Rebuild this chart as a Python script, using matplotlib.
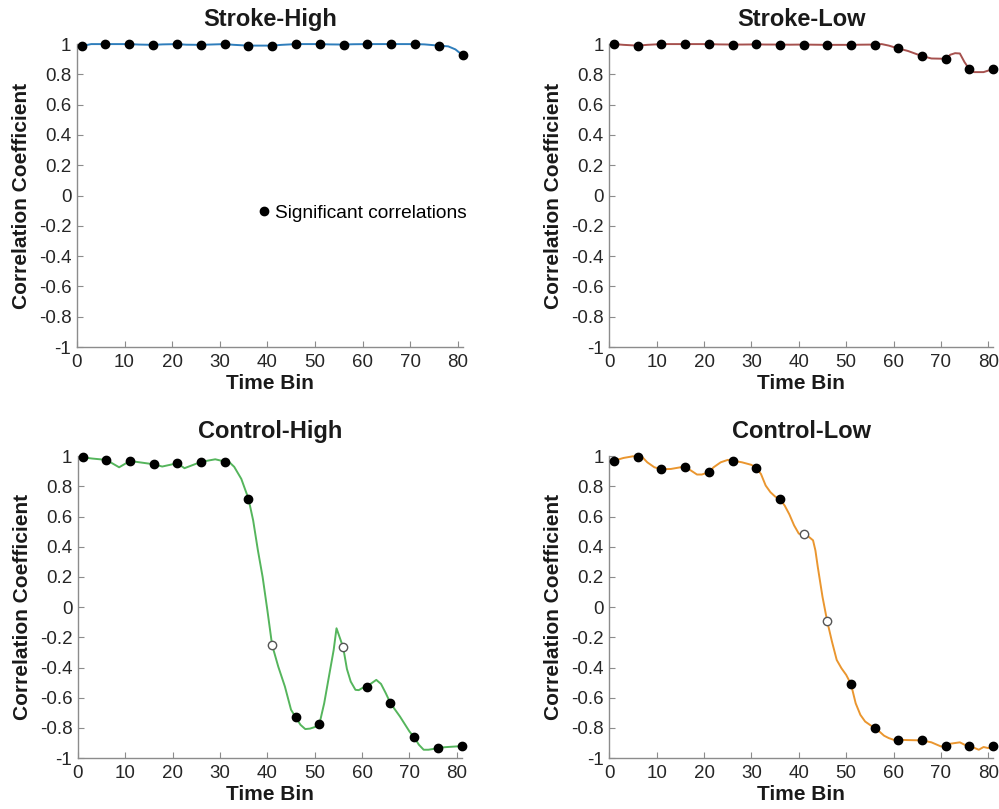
import matplotlib
matplotlib.use("Agg")
import matplotlib.pyplot as plt
import numpy as np
from matplotlib.lines import Line2D

plt.rcParams['font.family'] = ['Liberation Sans', 'DejaVu Sans']

# time bins where correlation was tested (every 5th bin)
marker_bins = [1, 6, 11, 16, 21, 26, 31, 36, 41, 46, 51, 56, 61, 66, 71, 76, 81]

# --- Stroke-High ---
sh_x = [1, 3, 6, 8, 11, 13, 16, 18, 21, 23, 26, 28, 31, 33, 36, 38, 41, 43, 46, 48, 51, 53,
        56, 58, 61, 63, 66, 68, 71, 73, 76, 78, 79.5, 81]
sh_y = [0.987, 1.0, 1.0, 1.0, 1.0, 0.997, 0.995, 0.998, 1.0, 0.996, 0.995, 0.997, 1.0, 0.995,
        0.99, 0.99, 0.99, 0.995, 1.0, 1.0, 1.0, 0.998, 0.997, 0.999, 1.0, 1.0, 1.0, 1.0,
        1.0, 0.998, 0.99, 0.985, 0.965, 0.927]
sh_sig = [1] * 17

# --- Stroke-Low ---
sl_x = [1, 3, 6, 8, 11, 13, 16, 18, 21, 23, 26, 28, 31, 33, 36, 38, 41, 43, 46, 48, 51, 53,
        56, 57.5, 59, 61, 63, 66, 68, 71, 72, 73, 74, 75, 76, 77, 79, 81]
sl_y = [1.0, 0.995, 0.99, 0.995, 1.0, 1.0, 1.0, 1.0, 1.0, 0.998, 0.997, 0.997, 0.998, 0.997,
        0.997, 0.996, 0.997, 0.996, 0.995, 0.995, 0.995, 0.996, 0.997, 1.0, 0.99, 0.971,
        0.955, 0.921, 0.905, 0.903, 0.93, 0.94, 0.938, 0.88, 0.835, 0.815, 0.815, 0.835]
sl_sig = [1] * 17

# --- Control-High ---
ch_x = [1, 3, 6, 8.7, 11, 13, 16, 17.8, 21, 22.5, 26, 29, 31, 32, 33, 34.5, 36, 37, 38, 39,
        40, 41, 42.3, 43.7, 45, 46, 47, 48, 49, 50, 51, 52, 53, 54, 54.6, 56, 56.8, 57.6,
        58.6, 59.3, 60, 61, 62, 63, 64, 65, 66, 68, 70, 71, 72, 73, 74, 75, 76, 78, 80, 81]
ch_y = [0.993, 0.985, 0.976, 0.927, 0.969, 0.96, 0.947, 0.932, 0.954, 0.921, 0.963, 0.98,
        0.965, 0.96, 0.93, 0.85, 0.72, 0.575, 0.377, 0.2, -0.02, -0.251, -0.394, -0.526,
        -0.68, -0.731, -0.78, -0.808, -0.805, -0.795, -0.773, -0.637, -0.46, -0.284, -0.14,
        -0.266, -0.41, -0.493, -0.548, -0.55, -0.537, -0.526, -0.504, -0.482, -0.509, -0.57,
        -0.637, -0.725, -0.824, -0.863, -0.912, -0.945, -0.945, -0.94, -0.932, -0.927,
        -0.923, -0.923]
ch_sig = [1, 1, 1, 1, 1, 1, 1, 1, 0, 1, 1, 0, 1, 1, 1, 1, 1]

# --- Control-Low ---
cl_x = [1, 3, 5, 6, 7, 8, 9.5, 11, 13, 15, 16, 17, 18.5, 19.5, 21, 22, 23.5, 25, 26, 28, 30,
        31, 32, 33, 34, 35, 36, 37, 38, 39, 40, 41, 42, 43, 43.5, 44, 45, 46, 47, 48, 49, 50,
        51, 52, 53, 54, 55, 56, 57, 58, 59, 60, 61, 63, 66, 68, 70, 71, 72, 74, 75, 76, 78,
        79, 80, 81]
cl_y = [0.971, 0.989, 1.0, 0.998, 0.993, 0.96, 0.927, 0.914, 0.916, 0.927, 0.932, 0.91,
        0.879, 0.879, 0.894, 0.927, 0.96, 0.976, 0.971, 0.96, 0.943, 0.921, 0.883, 0.806,
        0.762, 0.733, 0.714, 0.674, 0.615, 0.542, 0.487, 0.482, 0.469, 0.443, 0.376, 0.267,
        0.068, -0.095, -0.229, -0.35, -0.405, -0.449, -0.509, -0.637, -0.714, -0.758, -0.78,
        -0.802, -0.824, -0.852, -0.868, -0.879, -0.879, -0.881, -0.883, -0.896, -0.923,
        -0.923, -0.905, -0.896, -0.912, -0.919, -0.945, -0.927, -0.934, -0.923]
cl_sig = [1, 1, 1, 1, 1, 1, 1, 1, 0, 0, 1, 1, 1, 1, 1, 1, 1]

panels = [
    ('Stroke-High', sh_x, sh_y, sh_sig, '#2f7ebc', [0.077, 0.571, 0.386, 0.3745]),
    ('Stroke-Low', sl_x, sl_y, sl_sig, '#a6514e', [0.610, 0.571, 0.384, 0.3745]),
    ('Control-High', ch_x, ch_y, ch_sig, '#55b55c', [0.078, 0.063, 0.384, 0.373]),
    ('Control-Low', cl_x, cl_y, cl_sig, '#ea962f', [0.610, 0.063, 0.384, 0.373]),
]

x_ticks = [0, 10, 20, 30, 40, 50, 60, 70, 80]
y_ticks = [-1, -0.8, -0.6, -0.4, -0.2, 0, 0.2, 0.4, 0.6, 0.8, 1]

fig = plt.figure(figsize=(9.99, 8.09), dpi=100)

for name, xs, ys, sig, color, rect in panels:
    ax = fig.add_axes(rect)
    ax.plot(xs, ys, color=color, linewidth=1.4, zorder=2, clip_on=False)

    # pick the curve values at the tested bins
    lookup = dict(zip(xs, ys))
    mx = np.array(marker_bins)
    my = np.array([lookup[b] for b in marker_bins])
    s = np.array(sig, dtype=bool)
    ax.plot(mx[s], my[s], 'o', color='black', markersize=6, zorder=3, clip_on=False)
    ax.plot(mx[~s], my[~s], 'o', markerfacecolor='white', markeredgecolor='#555555',
            markeredgewidth=1.0, markersize=6, zorder=3, clip_on=False)

    ax.set_xlim(0, 81)
    ax.set_ylim(-1, 1)
    ax.set_xticks(x_ticks)
    ax.set_yticks(y_ticks)
    ax.set_yticklabels([f'{v:g}' for v in y_ticks])
    for side in ['top', 'right']:
        ax.spines[side].set_visible(False)
    for side in ['left', 'bottom']:
        ax.spines[side].set_color('#8c8c8c')
        ax.spines[side].set_linewidth(1.0)
    ax.tick_params(direction='in', length=4, color='#8c8c8c', labelsize=13.5,
                   labelcolor='#262626')
    ax.tick_params(axis='x', pad=5)
    ax.tick_params(axis='y', pad=4)

    ax.set_title(name, fontsize=17, fontweight='bold', pad=13, color='#1a1a1a')
    ax.set_xlabel('Time Bin', fontsize=15, fontweight='bold', labelpad=2, color='#1a1a1a')
    ax.set_ylabel('Correlation Coefficient', fontsize=15, fontweight='bold', color='#1a1a1a')
    ax.yaxis.set_label_coords(-0.12, 0.5)

    if name == 'Stroke-High':
        handle = Line2D([], [], marker='o', color='black', linestyle='', markersize=6)
        ax.legend([handle], ['Significant correlations'], loc='center left',
                  bbox_to_anchor=(0.44, 0.442), frameon=False, fontsize=13.8,
                  handlelength=0.8, handletextpad=0.2, borderpad=0)

fig.savefig('out.png', dpi=100)
